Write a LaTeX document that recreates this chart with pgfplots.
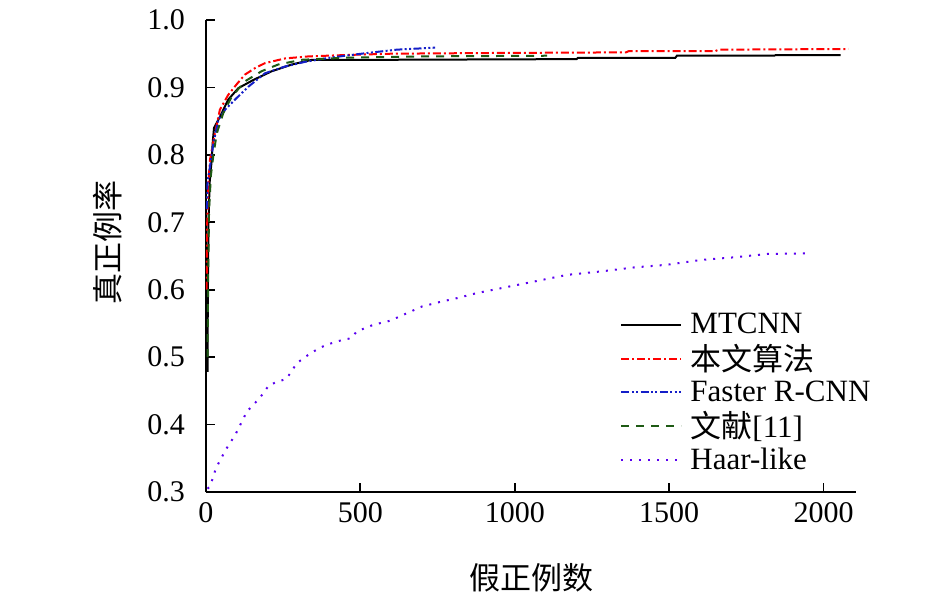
\documentclass[border=0pt]{standalone}
\usepackage{pgfplots}
\pgfplotsset{compat=1.18}
\usepackage{fontspec}
\setmainfont{Liberation Serif}
\newfontfamily\cjk{Noto Sans CJK SC}
\definecolor{cMT}{RGB}{0,0,0}
\definecolor{cOurs}{RGB}{255,0,0}
\definecolor{cFR}{RGB}{20,30,200}
\definecolor{cRef}{RGB}{30,90,20}
\definecolor{cHaar}{RGB}{90,0,240}
\begin{document}
\begin{tikzpicture}
\path[use as bounding box] (-103pt,-50.5pt) rectangle (369.5pt,246pt);
\begin{axis}[
  scale only axis, width=325pt, height=236pt,
  xmin=0, xmax=2105, ymin=0.3, ymax=1.0,
  axis x line*=bottom, axis y line*=left,
  axis line style={line width=0.9pt},
  every tick/.style={black, line width=0.9pt},
  tick align=inside, major tick length=4.5pt,
  xtick={0,500,1000,1500,2000},
  ytick={0.3,0.4,0.5,0.6,0.7,0.8,0.9,1.0},
  /pgf/number format/assume math mode=true,
  /pgf/number format/1000 sep={},
  yticklabel style={/pgf/number format/fixed,/pgf/number format/precision=1,/pgf/number format/fixed zerofill, xshift=-7pt},
  xticklabel style={yshift=-1.5pt},
  tick label style={font=\fontsize{15}{18}\selectfont},
  label style={font=\fontsize{15.5}{18}\selectfont},
  xlabel={\cjk 假正例数},
  ylabel={\cjk 真正例率},
  xlabel style={yshift=-13.5pt},
  ylabel style={at={(ticklabel cs:0.528)}, yshift=6pt},
  legend style={draw=none, fill=none, at={(0.637,0.388)}, anchor=north west, inner sep=0pt,
    font=\fontsize{15.5}{16}\selectfont, row sep=-0.35pt, column sep=2pt},
  legend cell align=left,
  legend image code/.code={\draw[#1] (0pt,0pt) -- (30pt,0pt);},
]
\addplot[cMT, line width=1pt] coordinates {
(5,0.478) (6,0.6) (8,0.7) (12,0.76) (18,0.79) (22,0.82) (26,0.84) (40,0.852) (51,0.862) (72,0.882) (105,0.899) (153,0.911) (213,0.924) (278,0.934) (343,0.941) (600,0.941) (1200,0.942) (1205,0.944) (1520,0.944) (1525,0.947) (1840,0.947) (1845,0.948) (2055,0.948)
};
\addlegendentry{MTCNN}
\addplot[cOurs, line width=1pt, dash pattern=on 4pt off 1.5pt on 1pt off 1.5pt] coordinates {
(2,0.6) (4,0.7) (8,0.76) (13,0.793) (20,0.81) (29,0.832) (45,0.867) (72,0.889) (100,0.905) (126,0.919) (160,0.929) (191,0.936) (256,0.943) (332,0.946) (450,0.948) (600,0.950) (900,0.951) (1360,0.952) (1370,0.954) (1650,0.954) (1660,0.956) (2080,0.957)
};
\addlegendentry{\cjk 本文算法}
\addplot[cFR, line width=1pt, dash pattern=on 4pt off 1.2pt on 1pt off 1.2pt on 1pt off 1.2pt] coordinates {
(3,0.72) (5,0.76) (13,0.783) (24,0.817) (40,0.852) (62,0.867) (94,0.882) (137,0.901) (191,0.921) (256,0.931) (321,0.938) (400,0.944) (521,0.951) (618,0.956) (742,0.959)
};
\addlegendentry{Faster R-CNN}
\addplot[cRef, line width=1pt, dash pattern=on 4pt off 3.5pt] coordinates {
(5,0.50) (7,0.62) (10,0.72) (16,0.77) (24,0.80) (35,0.832) (56,0.862) (83,0.886) (126,0.909) (180,0.924) (234,0.934) (310,0.941) (450,0.944) (700,0.946) (1105,0.947)
};
\addlegendentry{\cjk 文献\rmfamily[11]}
\addplot[cHaar, line width=1pt, dash pattern=on 1pt off 3.5pt] coordinates {
(5,0.305) (13,0.308) (32,0.335) (63,0.362) (95,0.385) (132,0.419) (175,0.44) (205,0.459) (261,0.468) (294,0.491) (342,0.507) (388,0.518) (445,0.526) (470,0.528) (488,0.538) (542,0.548) (596,0.554) (650,0.565) (699,0.575) (759,0.582) (818,0.588) (877,0.595) (953,0.602) (1061,0.612) (1169,0.622) (1277,0.627) (1385,0.633) (1493,0.637) (1601,0.644) (1709,0.648) (1818,0.653) (1958,0.654)
};
\addlegendentry{Haar-like}
\end{axis}
\end{tikzpicture}
\end{document}
